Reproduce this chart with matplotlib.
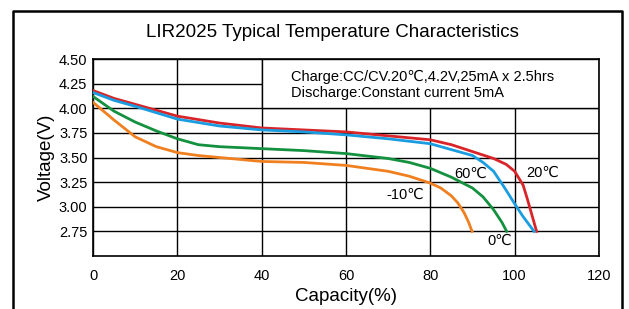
# LIR2025 temperature characteristics chart

import matplotlib
matplotlib.use('Agg')
import matplotlib.pyplot as plt
from matplotlib.patches import Rectangle
from matplotlib.lines import Line2D

plt.rcParams['font.family'] = ['Liberation Sans', 'DejaVu Sans']

# discharge curves: capacity (%) vs voltage (V)
x_20 = [0, 5, 10, 20, 30, 40, 50, 60, 70, 80, 85, 90, 95, 98, 100, 102, 103, 104, 105.2]
v_20 = [4.18, 4.10, 4.04, 3.92, 3.85, 3.80, 3.78, 3.76, 3.72, 3.68, 3.63, 3.56, 3.49, 3.43, 3.36, 3.22, 3.08, 2.93, 2.75]

x_60 = [0, 5, 10, 20, 30, 40, 50, 60, 70, 80, 85, 90, 92.5, 95, 97.5, 100, 102, 104.6]
v_60 = [4.16, 4.08, 4.02, 3.89, 3.82, 3.78, 3.76, 3.73, 3.69, 3.64, 3.58, 3.52, 3.45, 3.36, 3.20, 3.03, 2.90, 2.75]

x_0 = [0, 5, 10, 15, 20, 22.5, 25, 30, 40, 50, 60, 70, 75, 80, 85, 90, 92.5, 95, 97, 98.1]
v_0 = [4.12, 3.97, 3.86, 3.77, 3.69, 3.66, 3.63, 3.61, 3.59, 3.57, 3.54, 3.49, 3.45, 3.39, 3.30, 3.19, 3.10, 2.97, 2.84, 2.75]

x_m10 = [0, 5, 10, 15, 20, 25, 30, 40, 50, 60, 70, 75, 80, 82.5, 85, 86.5, 88, 89, 89.9]
v_m10 = [4.06, 3.88, 3.71, 3.61, 3.55, 3.52, 3.50, 3.46, 3.45, 3.42, 3.36, 3.31, 3.24, 3.19, 3.11, 3.04, 2.94, 2.85, 2.75]

xticks = [0, 20, 40, 60, 80, 100, 120]
yticks = [2.75, 3.00, 3.25, 3.50, 3.75, 4.00, 4.25, 4.50]

fig = plt.figure(figsize=(6.29, 3.09), dpi=100)
ax = fig.add_axes([0.1479, 0.1715, 0.8044, 0.6375])

ax.set_axisbelow(True)
ax.grid(True, color='black', lw=1.0)

# white note box hides the grid in the upper right
ax.add_patch(Rectangle((40, 4.0), 80, 0.5, facecolor='white', edgecolor='black', lw=1.0, zorder=1))

ax.plot(x_20, v_20, color='#d9252a', lw=2.0, zorder=3)
ax.plot(x_60, v_60, color='#1a9de0', lw=2.0, zorder=3)
ax.plot(x_0, v_0, color='#14913f', lw=2.0, zorder=3)
ax.plot(x_m10, v_m10, color='#f0801f', lw=2.0, zorder=3)

ax.text(47, 4.32, 'Charge:CC/CV.20\u2103,4.2V,25mA x 2.5hrs', fontsize=10.5, va='center')
ax.text(47, 4.15, 'Discharge:Constant current 5mA', fontsize=10.5, va='center')

ax.text(106.7, 3.34, '20\u2103', fontsize=10.5, ha='center', va='center')
ax.text(89.6, 3.33, '60\u2103', fontsize=10.5, ha='center', va='center')
ax.text(74, 3.12, '-10\u2103', fontsize=10.5, ha='center', va='center')
ax.text(96.5, 2.65, '0\u2103', fontsize=10.5, ha='center', va='center')

ax.set_xlim(0, 120)
ax.set_ylim(2.5, 4.5)
ax.set_xticks(xticks)
ax.set_yticks(yticks)
ax.set_yticklabels(['%.2f' % t for t in yticks])
ax.tick_params(length=0, labelsize=10.5)
ax.tick_params(axis='x', pad=9)
ax.tick_params(axis='y', pad=4)
for s in ax.spines.values():
    s.set_linewidth(1.2)

ax.set_xlabel('Capacity(%)', fontsize=13.5, labelpad=4)
ax.set_ylabel('Voltage(V)', fontsize=13.5, labelpad=3)
fig.text(0.528, 0.896, 'LIR2025 Typical Temperature Characteristics', fontsize=13.5, ha='center', va='center')

# outer frame, open at the bottom
W, H = 629, 309
fx = lambda p: p / W
fy = lambda p: 1 - p / H
fig.add_artist(Line2D([fx(13), fx(13), fx(622), fx(622)], [fy(309), fy(11), fy(11), fy(309)],
                      color='black', lw=1.8, transform=fig.transFigure))

fig.savefig('out.png', dpi=100)
